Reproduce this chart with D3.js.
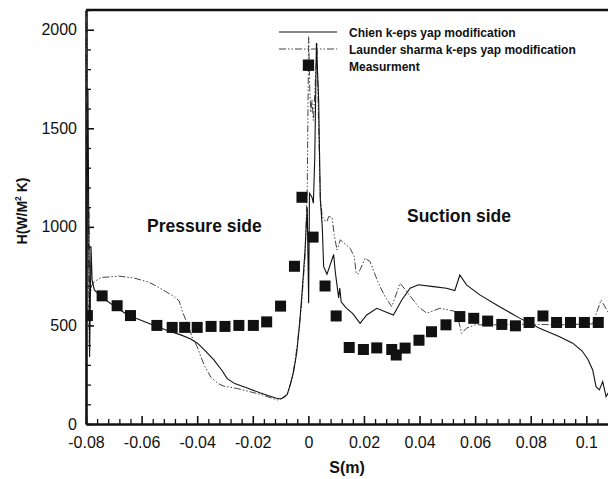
<!DOCTYPE html>
<html>
<head>
<meta charset="utf-8">
<script src="https://cdn.jsdelivr.net/npm/d3@7"></script>
<style>
  body { margin: 0; background: #fff; }
  svg text { font-family: "Liberation Sans", Arial, sans-serif; fill: #111; }
</style>
</head>
<body>
<div id="chart"></div>
<script>
var svgWidth = 608;
var svgHeight = 479;

// plot box in pixels
var margin = { top: 10, right: 0, bottom: 55, left: 86 };
var width = svgWidth - margin.left - margin.right;
var height = svgHeight - margin.top - margin.bottom;

// tick values and labels
var xTicks = [-0.08, -0.06, -0.04, -0.02, 0, 0.02, 0.04, 0.06, 0.08, 0.1];
var xTickLabels = ["-0.08", "-0.06", "-0.04", "-0.02", "0", "0.02", "0.04", "0.06", "0.08", "0.1"];
var yTicks = [0, 500, 1000, 1500, 2000];
var yTickLabels = ["0", "500", "1000", "1500", "2000"];

// measured points [S, H]
var measurement = [
  [-0.0795, 550], [-0.0742, 650], [-0.0688, 600], [-0.064, 550], [-0.0545, 500],
  [-0.049, 490], [-0.0445, 490], [-0.04, 490], [-0.035, 495], [-0.03, 495],
  [-0.025, 500], [-0.0198, 500], [-0.015, 518], [-0.01, 598], [-0.005, 800],
  [-0.0023, 1150], [0.0001, 1820], [0.0017, 948], [0.006, 700], [0.01, 548],
  [0.0147, 388], [0.0198, 378], [0.0246, 386], [0.030, 378], [0.0316, 350],
  [0.0348, 385], [0.0398, 425], [0.0443, 468], [0.0495, 503], [0.0545, 545],
  [0.0595, 536], [0.0645, 522], [0.0696, 505], [0.0745, 498], [0.0794, 515],
  [0.0844, 548], [0.0893, 515], [0.0943, 515], [0.0993, 515], [0.1043, 515]
];

// Chien k-eps (solid)
var chien = [
  [-0.0799, 560], [-0.0793, 1700], [-0.0787, 340], [-0.0782, 900], [-0.0778, 730],
  [-0.077, 680], [-0.0746, 646], [-0.07, 600], [-0.065, 553], [-0.06, 525],
  [-0.0545, 494], [-0.05, 470], [-0.0459, 452], [-0.0425, 432], [-0.0399, 410],
  [-0.037, 370], [-0.034, 325], [-0.031, 270], [-0.0292, 230], [-0.0265, 205],
  [-0.022, 183], [-0.0172, 157], [-0.0118, 132], [-0.01, 127], [-0.0085, 138],
  [-0.0076, 150], [-0.0065, 200], [-0.0053, 265], [-0.0042, 360], [-0.0032, 500],
  [-0.0022, 680], [-0.0012, 880], [-0.0004, 1100], [0.0001, 613], [0.0004, 1170],
  [0.0013, 1150], [0.0018, 1120], [0.0023, 1350], [0.0029, 1932], [0.0037, 1645],
  [0.0043, 1137], [0.005, 1000], [0.0055, 798], [0.0067, 760], [0.0079, 810],
  [0.0091, 860], [0.0097, 770], [0.0109, 640], [0.0113, 690], [0.0118, 620],
  [0.0135, 590], [0.016, 560], [0.0186, 511], [0.021, 553], [0.0246, 587],
  [0.0306, 553], [0.0336, 629], [0.0366, 689], [0.0396, 706], [0.045, 697],
  [0.0497, 689], [0.0527, 677], [0.0545, 756], [0.0569, 706], [0.0617, 655],
  [0.0688, 595], [0.076, 537], [0.0832, 486], [0.0904, 443], [0.0951, 410],
  [0.0985, 370], [0.1005, 330], [0.1023, 274], [0.1035, 189], [0.1047, 173],
  [0.1059, 215], [0.1071, 139], [0.108, 160]
];

// Launder sharma k-eps (dash-dot-dot)
var launder = [
  [-0.0798, 2150], [-0.0794, 380], [-0.079, 1100], [-0.0786, 640], [-0.078, 700],
  [-0.0772, 720], [-0.0746, 743], [-0.068, 750], [-0.0626, 740], [-0.0575, 720],
  [-0.0543, 697], [-0.0505, 665], [-0.0483, 646], [-0.0465, 625], [-0.0453, 570],
  [-0.0441, 528], [-0.0425, 470], [-0.0417, 435], [-0.04, 392], [-0.0387, 342],
  [-0.0372, 290], [-0.0351, 238], [-0.0325, 205], [-0.0304, 192], [-0.0256, 180],
  [-0.0172, 150], [-0.0112, 122], [-0.0095, 130], [-0.0075, 155], [-0.0063, 210],
  [-0.005, 300], [-0.004, 400], [-0.0025, 600], [-0.0012, 850], [-0.0004, 1200],
  [0.0001, 1966], [0.0005, 1700], [0.0009, 1580], [0.0013, 1645], [0.0018, 1540],
  [0.0024, 1700], [0.0031, 1932], [0.0037, 1500], [0.0043, 1150], [0.005, 1052],
  [0.0057, 1035], [0.0067, 1027], [0.0073, 1052], [0.0085, 1049], [0.0093, 960],
  [0.0103, 883], [0.0115, 934], [0.0135, 910], [0.0151, 890], [0.0165, 849],
  [0.0172, 765], [0.0178, 760], [0.0186, 782], [0.0204, 841], [0.0222, 824],
  [0.0252, 714], [0.0276, 646], [0.03, 595], [0.033, 714], [0.0354, 672],
  [0.0396, 595], [0.0426, 562], [0.0473, 587], [0.0533, 570], [0.0551, 460],
  [0.0569, 486], [0.0599, 503], [0.0664, 503], [0.0784, 506], [0.0904, 503],
  [0.1023, 508], [0.1053, 629], [0.108, 563]
];

var legendNames = ["Chien k-eps yap modification", "Launder sharma k-eps yap modification", "Measurment"];

var svg = d3.select("#chart")
  .append("svg")
  .attr("width", svgWidth)
  .attr("height", svgHeight);

var chartGroup = svg.append("g")
  .attr("transform", `translate(${margin.left}, ${margin.top})`);

// scales
var xScale = d3.scaleLinear()
  .domain([-0.08, 0.1078])
  .range([0, width]);

var yScale = d3.scaleLinear()
  .domain([0, 2100])
  .range([height, 0]);

svg.append("defs").append("clipPath")
  .attr("id", "plotClip")
  .append("rect")
  .attr("x", 0)
  .attr("y", 0)
  .attr("width", width)
  .attr("height", height);

// minor ticks
var xMinor = d3.range(-0.08, 0.1081, 0.004).filter(v => Math.abs(Math.round(v / 0.02) * 0.02 - v) > 1e-6);
var yMinor = d3.range(0, 2101, 100).filter(v => v % 500 !== 0);

chartGroup.append("g")
  .attr("transform", `translate(0, ${height})`)
  .call(d3.axisBottom(xScale).tickValues(xMinor).tickSizeInner(-5).tickSizeOuter(0).tickFormat(""))
  .call(g => g.select(".domain").remove())
  .selectAll("line").attr("stroke", "#111").attr("stroke-width", 1.3);

chartGroup.append("g")
  .call(d3.axisLeft(yScale).tickValues(yMinor).tickSizeInner(-5).tickSizeOuter(0).tickFormat(""))
  .call(g => g.select(".domain").remove())
  .selectAll("line").attr("stroke", "#111").attr("stroke-width", 1.3);

// major axes
var xAxis = chartGroup.append("g")
  .attr("transform", `translate(0, ${height})`)
  .call(d3.axisBottom(xScale).tickValues(xTicks).tickSizeInner(-8).tickSizeOuter(0).tickPadding(13)
    .tickFormat((d, i) => xTickLabels[i]));

var yAxis = chartGroup.append("g")
  .call(d3.axisLeft(yScale).tickValues(yTicks).tickSizeInner(-8).tickSizeOuter(0).tickPadding(9)
    .tickFormat((d, i) => yTickLabels[i]));

[xAxis, yAxis].forEach(function(ax) {
  ax.select(".domain").attr("stroke", "#111").attr("stroke-width", 2.6);
  ax.selectAll(".tick line").attr("stroke", "#111").attr("stroke-width", 1.6);
  ax.selectAll(".tick text")
    .attr("font-size", 16)
    .attr("font-family", "Liberation Sans, Arial, sans-serif")
    .attr("fill", "#111");
});

// top border
chartGroup.append("line")
  .attr("x1", 0).attr("x2", width)
  .attr("y1", 0).attr("y2", 0)
  .attr("stroke", "#111")
  .attr("stroke-width", 2.4);

// lines
var line = d3.line()
  .x(d => xScale(d[0]))
  .y(d => yScale(d[1]));

var plotArea = chartGroup.append("g").attr("clip-path", "url(#plotClip)");

plotArea.append("path")
  .datum(launder)
  .attr("fill", "none")
  .attr("stroke", "#444")
  .attr("stroke-width", 1)
  .attr("stroke-dasharray", "7,2,1.5,2,1.5,2")
  .attr("d", line);

plotArea.append("path")
  .datum(chien)
  .attr("fill", "none")
  .attr("stroke", "#111")
  .attr("stroke-width", 1.1)
  .attr("d", line);

plotArea.selectAll("rect.meas")
  .data(measurement)
  .enter()
  .append("rect")
  .attr("class", "meas")
  .attr("x", d => xScale(d[0]) - 5.5)
  .attr("y", d => yScale(d[1]) - 5.5)
  .attr("width", 11)
  .attr("height", 11)
  .attr("fill", "#111");

// legend (its marker sits over the sample column, as in the source figure)
var legend = svg.append("g").attr("transform", "translate(279, 32)");

legend.append("line")
  .attr("x1", 0).attr("x2", 58).attr("y1", 0).attr("y2", 0)
  .attr("stroke", "#111").attr("stroke-width", 1.1);

legend.append("line")
  .attr("x1", 0).attr("x2", 58).attr("y1", 17).attr("y2", 17)
  .attr("stroke", "#444").attr("stroke-width", 1)
  .attr("stroke-dasharray", "7,2,1.5,2,1.5,2");

legend.append("rect")
  .attr("x", 29.3 - 5.5).attr("y", 33.2 - 5.5)
  .attr("width", 11).attr("height", 11)
  .attr("fill", "#111");

legend.selectAll("text.leg")
  .data(legendNames)
  .enter()
  .append("text")
  .attr("class", "leg")
  .attr("x", 70)
  .attr("y", (d, i) => i * 17 + 4.5)
  .attr("font-size", 12)
  .attr("font-weight", "bold")
  .text(d => d);

// annotations
svg.append("text")
  .attr("x", 147)
  .attr("y", 232)
  .attr("font-size", 17.5)
  .attr("font-weight", "bold")
  .text("Pressure side");

svg.append("text")
  .attr("x", 407)
  .attr("y", 222)
  .attr("font-size", 17.5)
  .attr("font-weight", "bold")
  .text("Suction side");

// axis titles
svg.append("text")
  .attr("transform", "translate(27, 211) rotate(-90)")
  .attr("text-anchor", "middle")
  .attr("font-size", 14)
  .attr("font-weight", "bold")
  .html('H(W/M<tspan font-size="8.5" dy="-6">2</tspan><tspan dy="6"> K)</tspan>');

svg.append("text")
  .attr("x", 347)
  .attr("y", 473)
  .attr("text-anchor", "middle")
  .attr("font-size", 16)
  .attr("font-weight", "bold")
  .text("S(m)");
</script>
</body>
</html>
